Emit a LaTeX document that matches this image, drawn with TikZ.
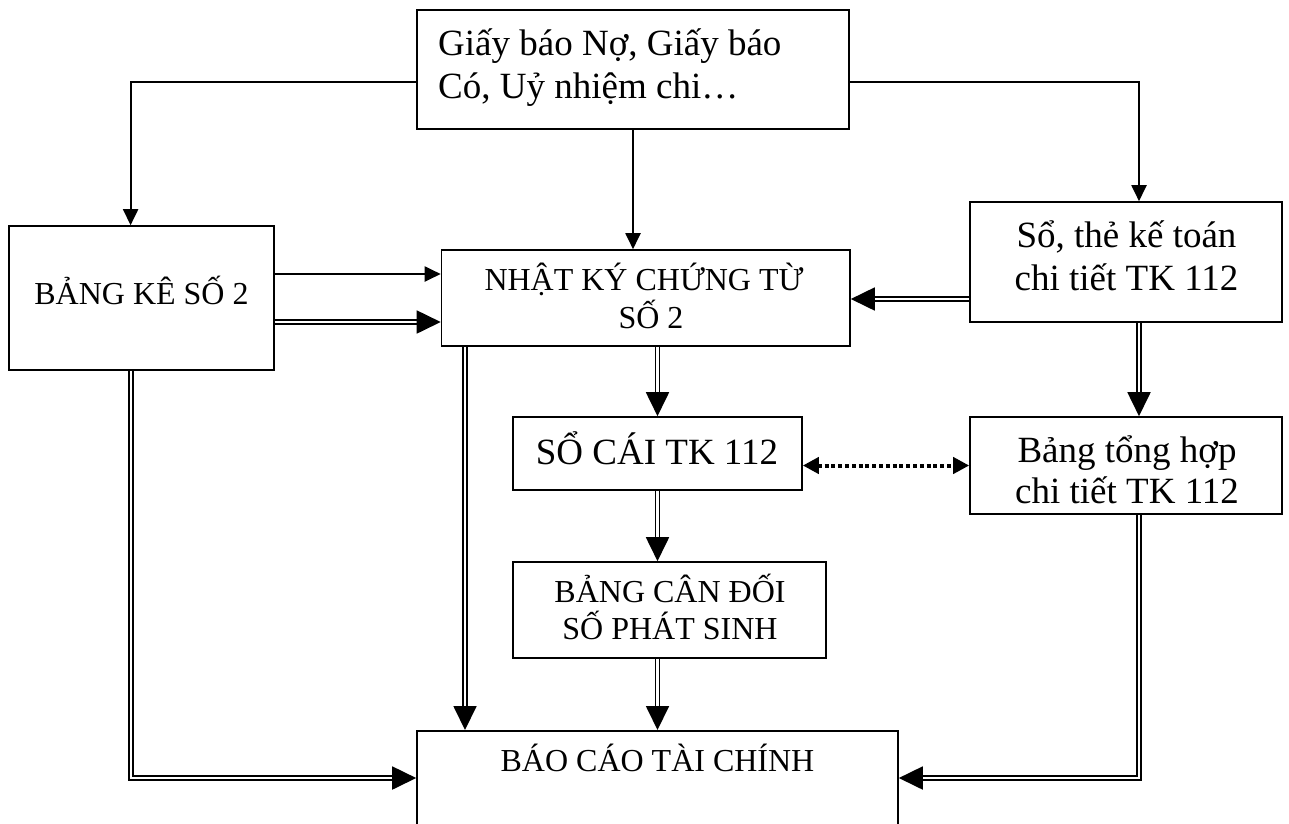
\documentclass[tikz,border=0pt]{standalone}
\usepackage{fontspec}
\setmainfont{Liberation Serif}
\usetikzlibrary{arrows.meta}
\begin{document}
\begin{tikzpicture}[x=1pt,y=-1pt,
  box/.style={draw, line width=1.6pt, rectangle, inner sep=0pt},
  txt/.style={inner sep=0pt, anchor=base},
  big/.style={font=\fontsize{37}{43}\selectfont},
  small/.style={font=\fontsize{32}{38}\selectfont},
  single/.style={line width=2pt, -{Triangle[length=16pt,width=15pt]}},
  dbl/.style={double, double distance=2.2pt, line width=1.8pt, -{Triangle[length=24pt,width=23pt]}},
  dots/.style={line width=4pt, dash pattern=on 4pt off 2.8pt,
    {Triangle[length=16pt,width=16pt]}-{Triangle[length=16pt,width=16pt]}}]
\useasboundingbox (0,0) rectangle (1289,823);

% boxes
\node[box, minimum width=432pt, minimum height=119pt] (src) at (633,69.5) {};
\node[box, minimum width=265pt, minimum height=144pt] (bk) at (141.5,298) {};
\node[box, minimum width=408.5pt, minimum height=96pt] (nk) at (645.75,298) {};
\node[box, minimum width=312pt, minimum height=120pt] (st) at (1126,262) {};
\node[box, minimum width=289pt, minimum height=73pt] (sc) at (657.5,453.5) {};
\node[box, minimum width=312pt, minimum height=97pt] (bth) at (1126,465.5) {};
\node[box, minimum width=313pt, minimum height=96pt] (bcd) at (669.5,610) {};
\node[box, anchor=north, minimum width=481pt, minimum height=110pt] (bctc) at (657.5,730) {};

% box texts, one node per printed line
\node[txt, anchor=base west, big] (src-1) at (438,55) {Giấy báo Nợ, Giấy báo};
\node[txt, anchor=base west, big] (src-2) at (438,98) {Có, Uỷ nhiệm chi…};
\node[txt, small] (bk-1) at (141.5,304) {BẢNG KÊ SỐ 2};
\node[txt, small] (nk-1) at (644,290) {NHẬT KÝ CHỨNG TỪ};
\node[txt, small] (nk-2) at (651,328) {SỐ 2};
\node[txt, big] (st-1) at (1126.5,247) {Sổ, thẻ kế toán};
\node[txt, big] (st-2) at (1126.5,290) {chi tiết TK 112};
\node[txt, big] (sc-1) at (657,464) {SỔ CÁI TK 112};
\begin{scope}
  \clip (970,417) rectangle (1282,504);
  \node[txt, big] (bth-1) at (1127,462) {Bảng tổng hợp};
  \node[txt, big] (bth-2) at (1127,503) {chi tiết TK 112};
\end{scope}
\node[txt, small] (bcd-1) at (670,602) {BẢNG CÂN ĐỐI};
\node[txt, small] (bcd-2) at (670,639) {SỐ PHÁT SINH};
\node[txt, small] (bctc-1) at (657.5,771) {BÁO CÁO TÀI CHÍNH};

% elbow points
\coordinate (c1) at (130.6,82);
\coordinate (c2) at (1139,82);
\coordinate (c3) at (130.6,778);
\coordinate (c4) at (1139,778);
\coordinate (xl) at (465,0);

% single connectors
\draw[single] (src.west |- c1) -- (c1) -- (c1 |- bk.north);
\draw[single] (src.south) -- (src.south |- nk.north);
\draw[single] (src.east |- c2) -- (c2) -- (c2 |- st.north);
\draw[single] ([yshift=24pt]bk.east) -- ([yshift=24pt]bk.east -| nk.west);

% double connectors
\draw[dbl] ([yshift=-24pt]bk.east) -- ([yshift=-24pt]bk.east -| nk.west);
\draw[dbl] ([yshift=-37pt]st.west) -- ([yshift=-37pt]st.west -| nk.east);
\draw[dbl] (nk.south -| xl) -- (bctc.north -| xl);
\draw[dbl] (nk.south -| sc.north) -- (sc.north);
\draw[dbl] (st.south -| c2) -- (bth.north -| c2);
\draw[dbl] (sc.south) -- (bcd.north -| sc.south);
\draw[dbl] (bcd.south -| sc.south) -- (bctc.north -| sc.south);
\draw[dbl] (bk.south -| c3) -- (c3) -- (c3 -| bctc.west);
\draw[dbl] (bth.south -| c4) -- (c4) -- (c4 -| bctc.east);

% dotted two-way link
\draw[dots] (bth.west -| sc.east) -- (bth.west);
\end{tikzpicture}
\end{document}
